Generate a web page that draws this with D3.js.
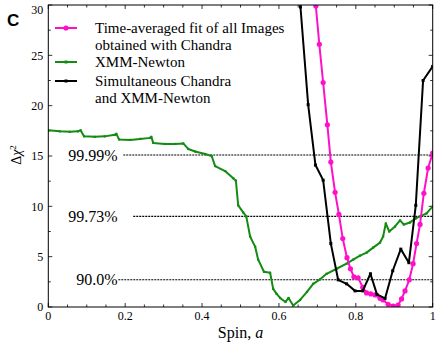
<!DOCTYPE html>
<meta charset="utf-8">
<html>
<head>
    <script src="https://d3js.org/d3.v7.min.js"></script>
    <style>
      body { margin: 0; background: #fff; }
      text { font-family: "Liberation Serif", "Times New Roman", serif; fill: #000; }
    </style>
</head>
<body>
<div id="my_dataviz"></div>
<script>

    // Chandra time-averaged fit (magenta)
    const chandraSpin = [0.686, 0.696, 0.705, 0.715, 0.726, 0.735, 0.746, 0.756, 0.766, 0.777, 0.786,
        0.795, 0.806, 0.818, 0.828, 0.839, 0.850, 0.863, 0.871, 0.884, 0.897, 0.910, 0.919, 0.928,
        0.939, 0.949, 0.958, 0.967, 0.977, 0.988, 1.0];
    const chandraChi = [33.8, 29.9, 26.1, 22.3, 18.1, 14.4, 11.4, 9.2, 6.8, 4.9, 3.8,
        3.0, 2.9, 1.95, 1.4, 1.3, 1.2, 0.86, 0.7, 0.27, 0.1, 0.2, 0.8, 1.6,
        2.7, 4.3, 6.3, 8.2, 11.3, 13.8, 15.3];

    // XMM-Newton (green)
    const xmmSpin = [0, 0.030, 0.056, 0.077, 0.084, 0.093, 0.121, 0.147, 0.173, 0.177, 0.184, 0.213,
        0.239, 0.265, 0.268, 0.273, 0.303, 0.330, 0.351, 0.364, 0.382, 0.408, 0.425, 0.434, 0.460,
        0.481, 0.488, 0.494, 0.507, 0.515, 0.525, 0.538, 0.546, 0.561, 0.577, 0.585, 0.594, 0.603,
        0.617, 0.625, 0.637, 0.655, 0.673, 0.689, 0.707, 0.724, 0.750, 0.776, 0.793, 0.811, 0.828,
        0.845, 0.863, 0.871, 0.878, 0.887, 0.902, 0.915, 0.925, 0.941, 0.956, 0.967, 0.984, 1.0];
    const xmmChi = [17.55, 17.45, 17.4, 17.45, 17.55, 16.95, 16.9, 16.95, 17.1, 17.2, 16.65, 16.6,
        16.7, 16.8, 16.9, 16.3, 16.2, 16.2, 16.25, 15.7, 15.45, 15.2, 15.0, 14.0, 13.5,
        12.8, 12.55, 10.1, 9.4, 9.0, 7.0, 6.0, 4.7, 3.5, 3.4, 1.8, 1.3, 0.9,
        0.5, 0.9, 0.15, 0.7, 1.5, 2.3, 2.75, 3.3, 3.8, 4.3, 4.7, 5.1, 5.4,
        5.9, 6.4, 7.0, 8.3, 7.5, 8.0, 8.6, 8.2, 8.4, 8.8, 9.0, 9.3, 10.0];

    // simultaneous Chandra + XMM (black)
    const simSpin = [0.636, 0.656, 0.676, 0.695, 0.715, 0.735, 0.754, 0.776, 0.798, 0.818, 0.838,
        0.855, 0.876, 0.896, 0.917, 0.938, 0.956, 0.975, 1.0];
    const simChi = [39.5, 29.8, 20.1, 14.1, 12.6, 6.3, 2.7, 2.3, 1.6, 1.6, 3.3,
        1.25, 0.85, 3.6, 5.75, 4.4, 10.1, 22.5, 23.9];

    // confidence levels
    const levelNames = ["99.99%", "99.73%", "90.0%"];
    const levelValues = [15.1, 9.0, 2.7];
    const levelStart = [0.195, 0.221, 0.182];

    const xTicks = [0, 0.2, 0.4, 0.6, 0.8, 1];
    const xTickLabels = ["0", "0.2", "0.4", "0.6", "0.8", "1"];
    const yTicks = [0, 5, 10, 15, 20, 25, 30];

    const legendNames = [["Time-averaged fit of all Images", "obtained with Chandra"],
        ["XMM-Newton"], ["Simultaneous Chandra", "and XMM-Newton"]];

    const W = 439, H = 347;
    const margin = {top: 5, right: 6.3, bottom: 40, left: 48.3};

    const svg = d3.select("#my_dataviz")
      .append("svg")
        .attr("width", W)
        .attr("height", H);

    const x = d3.scaleLinear().domain([0, 1]).range([margin.left, W - margin.right]);
    const y = d3.scaleLinear().domain([0, 30]).range([H - margin.bottom, margin.top]);

    svg.append("clipPath").attr("id", "clip")
      .append("rect")
        .attr("x", x(0)).attr("y", y(30))
        .attr("width", x(1) - x(0)).attr("height", y(0) - y(30));

    // ticks, inward on all four sides
    const tk = svg.append("g").attr("stroke", "#000").attr("stroke-width", 0.8);
    d3.range(0, 1.0001, 0.05).forEach(function(v) {
        const major = Math.abs(v * 5 - Math.round(v * 5)) < 1e-6;
        const len = major ? 4 : 2.5;
        tk.append("line").attr("x1", x(v)).attr("x2", x(v)).attr("y1", y(0)).attr("y2", y(0) - len);
        tk.append("line").attr("x1", x(v)).attr("x2", x(v)).attr("y1", y(30)).attr("y2", y(30) + len);
    });
    d3.range(0, 30.001, 2.5).forEach(function(v) {
        const len = (v % 5 === 0) ? 4 : 2.5;
        tk.append("line").attr("y1", y(v)).attr("y2", y(v)).attr("x1", x(0)).attr("x2", x(0) + len);
        tk.append("line").attr("y1", y(v)).attr("y2", y(v)).attr("x1", x(1)).attr("x2", x(1) - len);
    });

    // tick labels
    svg.append("g").selectAll("text")
      .data(xTicks)
      .join("text")
        .attr("x", d => x(d))
        .attr("y", y(0) + 13)
        .attr("text-anchor", "middle")
        .style("font-size", "12px")
        .text((d, i) => xTickLabels[i]);
    svg.append("g").selectAll("text")
      .data(yTicks)
      .join("text")
        .attr("x", x(0) - 5)
        .attr("y", d => Math.max(y(d), 10))   // keep the top label inside the page
        .attr("dy", "0.35em")
        .attr("text-anchor", "end")
        .style("font-size", "12px")
        .text(d => d);

    // axis titles
    svg.append("text")
        .attr("x", (x(0) + x(1)) / 2)
        .attr("y", 338)
        .attr("text-anchor", "middle")
        .style("font-size", "16px")
        .html('Spin, <tspan font-style="italic">a</tspan>');
    svg.append("text")
        .attr("transform", "translate(21,155) rotate(-90)")
        .attr("text-anchor", "middle")
        .style("font-size", "14px")
        .html('Δ<tspan font-style="italic">χ</tspan><tspan dy="-5" font-size="9px">2</tspan>');

    svg.append("text")
        .attr("x", 7)
        .attr("y", 26)
        .style("font-family", "'Liberation Sans', Arial, sans-serif")
        .style("font-size", "17px")
        .style("font-weight", "bold")
        .text("C");

    // confidence lines
    levelValues.forEach(function(v, i) {
        svg.append("line")
            .attr("x1", x(levelStart[i])).attr("x2", x(1))
            .attr("y1", y(v)).attr("y2", y(v))
            .attr("stroke", "#000").attr("stroke-width", 1.1)
            .attr("stroke-dasharray", "2,1");
        svg.append("text")
            .attr("x", 117.5)
            .attr("y", y(v))
            .attr("dy", "0.35em")
            .attr("text-anchor", "end")
            .style("font-size", "16px")
            .text(levelNames[i]);
    });

    const plot = svg.append("g").attr("clip-path", "url(#clip)");
    const line = d3.line().x(d => x(d[0])).y(d => y(d[1]));

    function drawSeries(spins, chis, color, marker, size) {
        const pts = spins.map((s, i) => [s, chis[i]]);
        plot.append("path")
            .datum(pts)
            .attr("fill", "none")
            .attr("stroke", color)
            .attr("stroke-width", 2)
            .attr("stroke-linejoin", "round")
            .attr("d", line);
        if (marker === "circle") {
            plot.append("g").selectAll("circle")
              .data(pts)
              .join("circle")
                .attr("cx", d => x(d[0]))
                .attr("cy", d => y(d[1]))
                .attr("r", size)
                .attr("fill", color);
        } else {
            plot.append("g").selectAll("rect")
              .data(pts)
              .join("rect")
                .attr("x", d => x(d[0]) - size / 2)
                .attr("y", d => y(d[1]) - size / 2)
                .attr("width", size)
                .attr("height", size)
                .attr("fill", color);
        }
    }

    const colors = ["#ff10c8", "#148c14", "#000000"];
    drawSeries(xmmSpin, xmmChi, colors[1], "rect", 2.2);
    drawSeries(chandraSpin, chandraChi, colors[0], "circle", 2.6);
    drawSeries(simSpin, simChi, colors[2], "rect", 3);

    // frame
    svg.append("rect")
        .attr("x", x(0)).attr("y", y(30))
        .attr("width", x(1) - x(0)).attr("height", y(0) - y(30))
        .attr("fill", "none").attr("stroke", "#000").attr("stroke-width", 1);

    // legend
    const legendY = [28, 62, 81];
    const markers = ["circle", "rect", "rect"];
    legendNames.forEach(function(lines, i) {
        const g = svg.append("g");
        g.append("line")
            .attr("x1", 55).attr("x2", 77)
            .attr("y1", legendY[i]).attr("y2", legendY[i])
            .attr("stroke", colors[i]).attr("stroke-width", 2);
        if (markers[i] === "circle") {
            g.append("circle").attr("cx", 66).attr("cy", legendY[i]).attr("r", 2.6).attr("fill", colors[i]);
        } else {
            g.append("rect").attr("x", 64.5).attr("y", legendY[i] - 1.5).attr("width", 3).attr("height", 3).attr("fill", colors[i]);
        }
        lines.forEach(function(t, j) {
            g.append("text")
                .attr("x", 95)
                .attr("y", legendY[i] + 5 + j * 17)
                .style("font-size", "15px")
                .text(t);
        });
    });

</script>
</body>
</html>
